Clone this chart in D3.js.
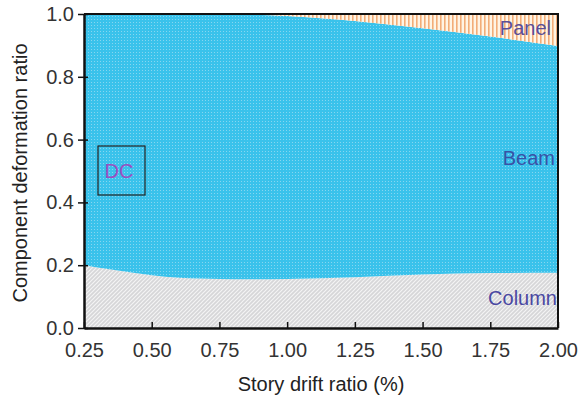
<!DOCTYPE html>
<html>
<head>
<meta charset="utf-8">
<script src="https://cdn.jsdelivr.net/npm/d3@7"></script>
<style>
    body { margin: 0; background: #fff; }
    svg text { font-family: "Liberation Sans", Arial, sans-serif; }
</style>
</head>
<body>
<script>
// story drift ratio (%)
var drift = [0.25, 0.35, 0.5, 0.6, 0.75, 0.85, 1.0, 1.25, 1.5, 1.75, 2.0];
// share of deformation taken by each component
var columnShare = [0.200, 0.186, 0.168, 0.160, 0.156, 0.155, 0.156, 0.162, 0.170, 0.175, 0.176];
var panelShare = [0.000, 0.000, 0.000, 0.000, 0.000, 0.002, 0.006, 0.022, 0.045, 0.072, 0.102];
var beamShare = [0.800, 0.814, 0.832, 0.840, 0.844, 0.843, 0.838, 0.816, 0.785, 0.753, 0.722];
var xTicks = [0.25, 0.50, 0.75, 1.00, 1.25, 1.50, 1.75, 2.00];
var yTicks = [0.0, 0.2, 0.4, 0.6, 0.8, 1.0];
var keys = ["column", "beam", "panel"];

var width = 588, height = 404;
var margin = {left: 84, right: 30, top: 14, bottom: 76};

var svg = d3.select('body').append('svg')
        .attr('width', width)
        .attr('height', height);

var x = d3.scaleLinear().domain([0.25, 2.0]).range([margin.left, width - margin.right]);
var y = d3.scaleLinear().domain([0, 1]).range([height - margin.bottom, margin.top]);

// fill textures
var defs = svg.append('defs');

var pBeam = defs.append('pattern').attr('id', 'beamFill')
        .attr('patternUnits', 'userSpaceOnUse').attr('width', 3).attr('height', 3);
pBeam.append('rect').attr('width', 3).attr('height', 3).attr('fill', '#3ac2eb');
pBeam.append('rect').attr('x', 1).attr('y', 1).attr('width', 1).attr('height', 1).attr('fill', '#86d6f0');

var pCol = defs.append('pattern').attr('id', 'columnFill')
        .attr('patternUnits', 'userSpaceOnUse').attr('width', 4).attr('height', 4);
pCol.append('rect').attr('width', 4).attr('height', 4).attr('fill', '#d6d6d8');
pCol.append('path').attr('d', 'M-1,1 l2,-2 M0,4 l4,-4 M3,5 l2,-2')
        .attr('stroke', '#f4f4f4').attr('stroke-width', 1.2);

var pPanel = defs.append('pattern').attr('id', 'panelFill')
        .attr('patternUnits', 'userSpaceOnUse').attr('width', 4).attr('height', 4);
pPanel.append('rect').attr('width', 4).attr('height', 4).attr('fill', '#fff4e4');
pPanel.append('rect').attr('width', 1.6).attr('height', 4).attr('fill', '#f2ad78');

var fills = {column: 'url(#columnFill)', beam: 'url(#beamFill)', panel: 'url(#panelFill)'};

var table = drift.map(function (d, i) {
    return {drift: d, column: columnShare[i], beam: beamShare[i], panel: panelShare[i]};
});
var series = d3.stack().keys(keys)(table);

var area = d3.area()
        .curve(d3.curveMonotoneX)
        .x(function (d) { return x(d.data.drift); })
        .y0(function (d) { return y(d[0]); })
        .y1(function (d) { return y(d[1]); });

svg.append('g').selectAll('path')
        .data(series)
        .enter().append('path')
        .attr('d', area)
        .attr('fill', function (s) { return fills[s.key]; });

// frame top and right
svg.append('path')
        .attr('d', 'M' + x(0.25) + ',' + y(1) + 'H' + x(2.0) + 'V' + y(0))
        .attr('fill', 'none').attr('stroke', '#111').attr('stroke-width', 2);

// x axis, ticks pointing inward
var xAxis = svg.append('g')
        .attr('transform', 'translate(0,' + y(0) + ')')
        .call(d3.axisBottom(x).tickValues(xTicks).tickSizeInner(-6).tickSizeOuter(0)
                .tickFormat(d3.format('.2f')));
xAxis.select('.domain').attr('stroke', '#111').attr('stroke-width', 2.5);
xAxis.selectAll('.tick line').attr('stroke', '#111').attr('stroke-width', 1.5);
xAxis.selectAll('.tick text').attr('y', 15).attr('dy', '0.71em')
        .attr('font-size', 20).attr('fill', '#333');

// y axis, ticks crossing the line
var yAxis = svg.append('g')
        .attr('transform', 'translate(' + x(0.25) + ',0)')
        .call(d3.axisLeft(y).tickValues(yTicks).tickSizeInner(6).tickSizeOuter(0)
                .tickFormat(d3.format('.1f')));
yAxis.select('.domain').attr('stroke', '#111').attr('stroke-width', 2.5);
yAxis.selectAll('.tick line').attr('x2', 4).attr('x1', -6).attr('stroke', '#111').attr('stroke-width', 1.5);
yAxis.selectAll('.tick text').attr('x', -10).attr('font-size', 20).attr('fill', '#333');

// axis titles
svg.append('text')
        .attr('x', (x(0.25) + x(2.0)) / 2).attr('y', 391)
        .attr('text-anchor', 'middle').attr('font-size', 20).attr('fill', '#222')
        .text('Story drift ratio (%)');
svg.append('text')
        .attr('transform', 'translate(27,' + ((y(0) + y(1)) / 2 + 2) + ') rotate(-90)')
        .attr('text-anchor', 'middle').attr('font-size', 20).attr('fill', '#222')
        .text('Component deformation ratio');

// component labels
svg.append('text').attr('x', 551).attr('y', 35).attr('text-anchor', 'end')
        .attr('font-size', 20).attr('fill', '#5a4e98').text('Panel');
svg.append('text').attr('x', 555).attr('y', 165).attr('text-anchor', 'end')
        .attr('font-size', 20).attr('fill', '#3852a6').text('Beam');
svg.append('text').attr('x', 557).attr('y', 305).attr('text-anchor', 'end')
        .attr('font-size', 20).attr('fill', '#4a48a2').text('Column');

// DC box
svg.append('rect').attr('x', 98).attr('y', 146).attr('width', 47).attr('height', 49)
        .attr('fill', 'none').attr('stroke', '#222').attr('stroke-width', 1.2);
svg.append('text').attr('x', 119).attr('y', 178).attr('text-anchor', 'middle')
        .attr('font-size', 20).attr('fill', '#9b4fc0').text('DC');
</script>
</body>
</html>
